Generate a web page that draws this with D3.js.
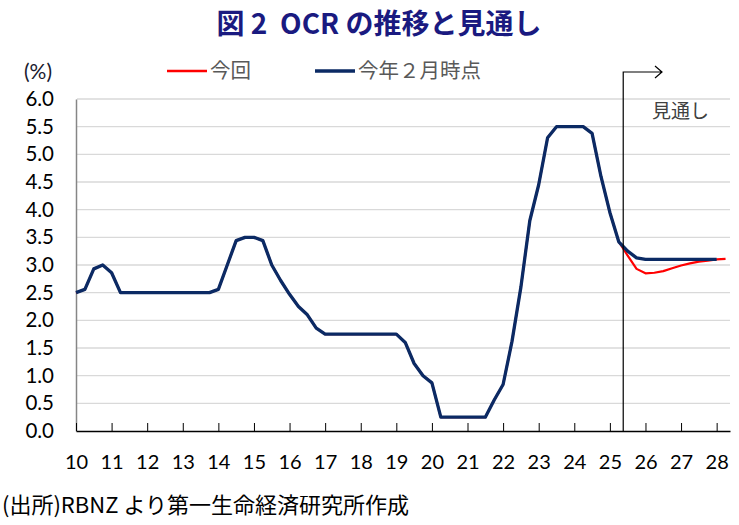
<!DOCTYPE html>
<html>
<head>
<meta charset="utf-8">
<script src="https://cdn.jsdelivr.net/npm/d3@7"></script>
<style>
  body { margin: 0; background: #fff; }
  svg { display: block; }
  text { white-space: pre; }
</style>
</head>
<body>
<svg id="chart"></svg>
<script>
// ====== data (quarterly, 2010Q1 ~) ====== //
const yearLabels = ['10','11','12','13','14','15','16','17','18','19','20','21','22','23','24','25','26','27','28'];
const yTicks = [0, 0.5, 1, 1.5, 2, 2.5, 3, 3.5, 4, 4.5, 5, 5.5, 6];

// 実績 2010Q1 - 2025Q2
const historyValues = [
  2.5, 2.56, 2.93, 3.0,
  2.86, 2.5, 2.5, 2.5,
  2.5, 2.5, 2.5, 2.5,
  2.5, 2.5, 2.5, 2.5,
  2.56, 3.0, 3.44, 3.5,
  3.5, 3.44, 3.0, 2.72,
  2.47, 2.25, 2.1, 1.86,
  1.75, 1.75, 1.75, 1.75,
  1.75, 1.75, 1.75, 1.75,
  1.75, 1.6, 1.22, 1.0,
  0.87, 0.25, 0.25, 0.25,
  0.25, 0.25, 0.25, 0.56,
  0.84, 1.62, 2.6, 3.8,
  4.45, 5.3, 5.5, 5.5,
  5.5, 5.5, 5.38, 4.6,
  3.95, 3.42
];
// 見通し 2025Q3 ~
const redForecast = [3.17, 2.93, 2.85, 2.86, 2.89, 2.94, 2.99, 3.03, 3.06, 3.08, 3.10, 3.11];
const navyForecast = [3.25, 3.13, 3.1, 3.1, 3.1, 3.1, 3.1, 3.1, 3.1, 3.1, 3.1];

const seriesRed = historyValues.concat(redForecast);
const seriesNavy = historyValues.concat(navyForecast);
const forecastStart = 61.5; // 見通しの境目（四半期インデックス）

// ====== layout ====== //
const width = 739, height = 525;
const svg = d3.select('#chart').attr('width', width).attr('height', height);

const x = d3.scaleLinear().domain([0, 73.5]).range([76, 730]);
const y = d3.scaleLinear().domain([0, 6]).range([431, 99]);

const numFont = 'Lato, "Noto Sans", sans-serif';
const jpFont = '"Noto Sans CJK JP", sans-serif';

// title
svg.append('text')
  .attr('x', 379).attr('y', 34)
  .attr('text-anchor', 'middle')
  .attr('font-family', jpFont)
  .attr('font-weight', 'bold')
  .attr('font-size', 28)
  .attr('fill', '#1a1a80')
  .text('図 2  OCR の推移と見通し');

// gridlines
svg.append('g')
  .selectAll('line')
  .data(yTicks.filter(d => d > 0))
  .enter().append('line')
  .attr('x1', x(0) + 1).attr('x2', x(73.5))
  .attr('y1', d => y(d)).attr('y2', d => y(d))
  .attr('stroke', '#d9d9d9').attr('stroke-width', 1.3);

// y axis
const yAxis = svg.append('g')
  .attr('transform', `translate(${x(0)},0)`)
  .call(d3.axisLeft(y).tickValues(yTicks).tickFormat(d3.format('.1f')).tickSize(0).tickPadding(22));
yAxis.select('.domain').attr('stroke', '#868686').attr('stroke-width', 1.5);
yAxis.selectAll('text')
  .attr('font-family', numFont).attr('font-size', 20.5).attr('fill', '#000');

// x axis
const xTickVals = yearLabels.map((d, i) => i * 4);
const xAxis = svg.append('g')
  .attr('transform', `translate(0,${y(0)})`)
  .call(d3.axisBottom(x).tickValues(xTickVals).tickFormat((d, i) => yearLabels[i]).tickSizeInner(-8).tickSizeOuter(0).tickPadding(24));
xAxis.select('.domain').attr('stroke', '#000').attr('stroke-width', 1.5);
xAxis.selectAll('.tick line').attr('stroke', '#000');
xAxis.selectAll('text')
  .attr('font-family', numFont).attr('font-size', 20).attr('fill', '#000');

// lines
const line = d3.line()
  .x((d, i) => x(i))
  .y(d => y(d));

svg.append('path')
  .datum(seriesRed)
  .attr('d', line)
  .attr('fill', 'none')
  .attr('stroke', '#ff0000')
  .attr('stroke-width', 2.2)
  .attr('stroke-linejoin', 'round');

svg.append('path')
  .datum(seriesNavy)
  .attr('d', line)
  .attr('fill', 'none')
  .attr('stroke', '#0b2a64')
  .attr('stroke-width', 3.3)
  .attr('stroke-linejoin', 'round');

// forecast marker
const fx = x(forecastStart);
svg.append('path')
  .attr('d', `M${fx},${y(0)} V72 H662 M655,66 L662,72 L655,78`)
  .attr('fill', 'none')
  .attr('stroke', '#000')
  .attr('stroke-width', 1.2);

svg.append('text')
  .attr('x', 652).attr('y', 118)
  .attr('font-family', jpFont).attr('font-size', 19)
  .attr('fill', '#404040')
  .text('見通し');

// unit
svg.append('text')
  .attr('x', 24).attr('y', 79)
  .attr('font-family', numFont).attr('font-size', 21)
  .attr('fill', '#1a1a2e')
  .text('(%)');

// legend
const legendItems = [
  { label: '今回', color: '#ff0000', x: 167, w: 2.5 },
  { label: '今年２月時点', color: '#0b2a64', x: 315, w: 3.3 }
];
const legend = svg.append('g');
legend.selectAll('line')
  .data(legendItems)
  .enter().append('line')
  .attr('x1', d => d.x).attr('x2', d => d.x + 40)
  .attr('y1', 71).attr('y2', 71)
  .attr('stroke', d => d.color).attr('stroke-width', d => d.w);
legend.selectAll('text')
  .data(legendItems)
  .enter().append('text')
  .attr('x', d => d.x + 43).attr('y', 78)
  .attr('font-family', jpFont).attr('font-size', 20.5)
  .attr('fill', '#595959')
  .text(d => d.label);

// source
svg.append('text')
  .attr('x', 2).attr('y', 513)
  .attr('font-family', jpFont).attr('font-size', 22)
  .attr('fill', '#000')
  .text('(出所)RBNZ より第一生命経済研究所作成');
</script>
</body>
</html>
